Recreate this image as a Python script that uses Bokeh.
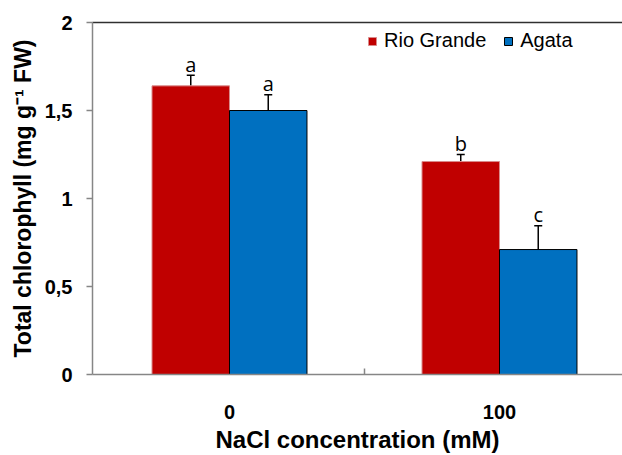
from bokeh.plotting import figure
from bokeh.models import (Range1d, FixedTicker, LinearAxis, Whisker, TeeHead,
                          ColumnDataSource, Legend, LegendItem)
from bokeh.embed import file_html
from bokeh.resources import INLINE
from bokeh.core.properties import value

# ---- data ----
categories = ["0", "100"]
series = ["Rio Grande", "Agata"]
rio = [1.64, 1.21]
rio_err = [0.06, 0.04]
agata = [1.50, 0.71]
agata_err = [0.09, 0.135]
rio_letters = ["a", "b"]
agata_letters = ["a", "c"]
y_ticks = [0, 0.5, 1, 1.5, 2]
y_tick_labels = ["0", "0,5", "1", "1,5", "2"]

RED = "#C00000"
BLUE = "#0070C0"
GREY = "#868686"

centers = [i + 0.5 for i in range(len(categories))]
bw = 0.287
x_rio = [c - bw / 2 for c in centers]
x_ag = [c + bw / 2 for c in centers]

src_rio = ColumnDataSource(dict(x=x_rio, top=rio,
                                up=[v + e for v, e in zip(rio, rio_err)],
                                txt=rio_letters))
src_ag = ColumnDataSource(dict(x=x_ag, top=agata,
                               up=[v + e for v, e in zip(agata, agata_err)],
                               txt=agata_letters))

p = figure(width=622, height=455, output_backend="svg", toolbar_location=None,
           x_range=Range1d(-0.0074, 1.9556), y_range=Range1d(0, 2),
           min_border_left=92, min_border_top=22, min_border_right=0,
           min_border_bottom=79, outline_line_color=None,
           x_axis_location="below", y_axis_location="left")
p.xgrid.visible = False
p.ygrid.visible = False

r1 = p.vbar(x="x", top="top", width=bw, bottom=0, source=src_rio,
            fill_color=RED, line_color="#D98B8B", line_width=1)
r2 = p.vbar(x="x", top="top", width=bw, bottom=0, source=src_ag,
            fill_color=BLUE, line_color="black", line_width=1)

for src in (src_rio, src_ag):
    w = Whisker(base="x", lower="top", upper="up", source=src,
                line_color="black", line_width=1.5,
                upper_head=TeeHead(size=8, line_width=1.5, line_color="black"),
                lower_head=None)
    p.add_layout(w)
    p.text(x="x", y="up", text="txt", source=src, text_align="center",
           text_baseline="alphabetic", y_offset=-11,
           text_font=value("Open Sans"), text_font_size="20px",
           text_color="black")

# x axis
xa = p.xaxis[0]
xa.ticker = FixedTicker(ticks=centers, minor_ticks=[1.0])
xa.major_label_overrides = {c: lab for c, lab in zip(centers, categories)}
xa.major_tick_line_color = None
xa.minor_tick_in = 6
xa.minor_tick_out = 0
xa.minor_tick_line_color = GREY
xa.minor_tick_line_width = 1.5
xa.axis_line_color = GREY
xa.axis_line_width = 1.5
xa.major_label_standoff = 24
xa.major_label_text_font = "Liberation Sans"
xa.major_label_text_font_style = "bold"
xa.major_label_text_font_size = "20px"
xa.major_label_text_color = "black"
xa.axis_label = "NaCl concentration (mM)"
xa.axis_label_standoff = 4
xa.axis_label_text_font = "Liberation Sans"
xa.axis_label_text_font_style = "bold"
xa.axis_label_text_font_size = "24px"
xa.axis_label_text_color = "black"

# y axis
ya = p.yaxis[0]
ya.ticker = FixedTicker(ticks=y_ticks, minor_ticks=[])
ya.major_label_overrides = {t: lab for t, lab in zip(y_ticks, y_tick_labels)}
ya.major_tick_in = 0
ya.major_tick_out = 6
ya.major_tick_line_color = GREY
ya.major_tick_line_width = 1.5
ya.axis_line_color = GREY
ya.axis_line_width = 1.5
ya.major_label_standoff = 14
ya.major_label_text_font = "Liberation Sans"
ya.major_label_text_font_style = "bold"
ya.major_label_text_font_size = "20px"
ya.major_label_text_color = "black"
ya.axis_label = "Total chlorophyll (mg g\u207b\u00b9 FW)"
ya.axis_label_standoff = 6
ya.axis_label_text_font = "Liberation Sans"
ya.axis_label_text_font_style = "bold"
ya.axis_label_text_font_size = "23px"
ya.axis_label_text_color = "black"

# top border line
top = LinearAxis(ticker=FixedTicker(ticks=[]), axis_line_color="#303030",
                 axis_line_width=1.5, major_tick_line_color=None,
                 minor_tick_line_color=None, major_label_text_font_size="0px")
p.add_layout(top, "above")

legend = Legend(items=[LegendItem(label=series[0], renderers=[r1]),
                       LegendItem(label=series[1], renderers=[r2])],
                location=(275, 322), orientation="horizontal",
                glyph_width=10, glyph_height=10, label_standoff=7, spacing=17,
                padding=0, margin=0, border_line_color=None,
                background_fill_alpha=0,
                label_text_font="Liberation Sans", label_text_font_size="20px",
                label_text_color="black")
p.add_layout(legend)

open("out.html", "w").write(file_html(p, INLINE))
